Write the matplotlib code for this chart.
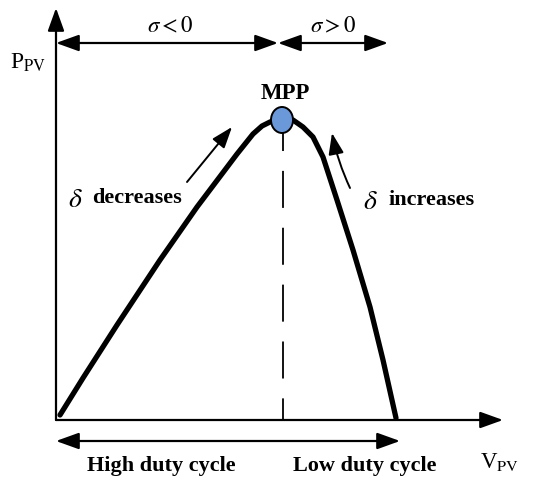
import matplotlib
matplotlib.use("Agg")
from matplotlib import pyplot as plt
from matplotlib.patches import Ellipse

plt.rcParams['font.family'] = ['Liberation Serif', 'DejaVu Serif']
plt.rcParams['mathtext.fontset'] = 'stix'

# P-V curve of the PV panel (V, P in drawing units)
v_pv = [4, 27, 61, 104, 141, 181, 197, 206, 214, 220, 226,
        237, 247, 257, 267, 281, 297, 314, 327, 340]
p_pv = [5, 42, 95, 160, 213, 266, 286, 294, 298, 300, 301,
        300, 293, 283, 263, 220, 170, 113, 60, 2]

v_mpp, p_mpp = 226, 300
v_max, p_max = 447, 412
region_labels = [r'$\sigma<0$', r'$\sigma>0$']
duty_labels = ['High duty cycle', 'Low duty cycle']

fig = plt.figure(figsize=(5.33, 4.79), dpi=100)
ax = fig.add_axes([0, 0, 1, 1])
ax.set_xlim(-56, 477)
ax.set_ylim(-59, 420)
ax.axis('off')


def arrow(p0, p1, style='-|>', lw=1.6, scale=14, rad=0.0):
    ax.annotate('', xy=p1, xytext=p0,
                arrowprops=dict(arrowstyle=f'{style},head_length=1.0,head_width=0.36',
                                mutation_scale=scale, lw=lw, color='black',
                                shrinkA=0, shrinkB=0,
                                connectionstyle=f'arc3,rad={rad}'))


# axes
arrow((0, 0), (0, p_max))
arrow((0, 0), (v_max, 0))

# sigma regions above the curve
arrow((0, 377), (v_mpp - 4, 377), style='<|-|>')
arrow((v_mpp - 4, 377), (332, 377), style='<|-|>')
ax.text(114, 393, region_labels[0], fontsize=16.5, ha='center', va='center')
ax.text(277, 393, region_labels[1], fontsize=16.5, ha='center', va='center')

# duty cycle range below the axis
arrow((0, -21), (344, -21), style='<|-|>')
ax.text(105, -46, duty_labels[0], fontsize=16, fontweight='bold', ha='center', va='center')
ax.text(309, -46, duty_labels[1], fontsize=16, fontweight='bold', ha='center', va='center')

ax.text(-28, 357, 'P$_{\\mathrm{PV}}$', fontsize=17, ha='center', va='center')
ax.text(443, -42, 'V$_{\\mathrm{PV}}$', fontsize=16.5, ha='center', va='center')

# curve, MPP marker and vertical dashed line
ax.plot([v_mpp + 1, v_mpp + 1], [p_mpp + 6, 0], color='black', lw=1.3, dashes=(20.5, 11))
ax.plot(v_pv, p_pv, color='black', lw=3.8, solid_capstyle='round', solid_joinstyle='round')
ax.add_patch(Ellipse((v_mpp, p_mpp), 22, 26, facecolor='#6b98d8', edgecolor='black',
                     lw=1.4, zorder=5))
ax.text(v_mpp + 3, 327, 'MPP', fontsize=16.5, fontweight='bold', ha='center', va='center')

# direction of duty cycle change
arrow((131, 238), (176, 293), lw=1.4, scale=13)
arrow((294, 232), (276, 287), lw=1.4, scale=13, rad=-0.06)
ax.text(19, 220, r'$\delta$', fontsize=20, ha='center', va='center')
ax.text(81, 222, 'decreases', fontsize=16, fontweight='bold', ha='center', va='center')
ax.text(314, 218, r'$\delta$', fontsize=20, ha='center', va='center')
ax.text(376, 220, 'increases', fontsize=16, fontweight='bold', ha='center', va='center')

fig.savefig('out.png', dpi=100)
